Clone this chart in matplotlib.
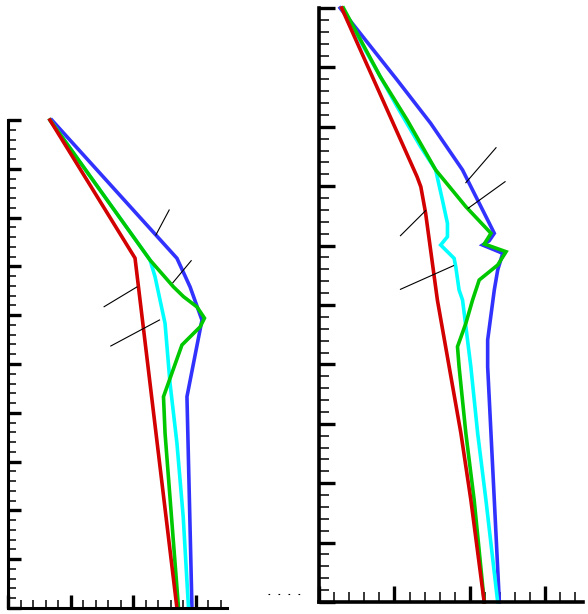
import matplotlib
matplotlib.use("Agg")
import matplotlib.pyplot as plt
from matplotlib.ticker import MultipleLocator
from matplotlib.lines import Line2D

# ---------------- data (normalised units: x 0..3.5, y 0..10) ----------------
# Left panel
L_red_x = [0.67, 2.03, 2.70]
L_red_y = [10.0, 7.17, 0.0]
L_cyan_x = [0.67, 2.27, 2.35, 2.43, 2.51, 2.59, 2.70, 2.80, 2.885]
L_cyan_y = [10.0, 7.13, 6.79, 6.31, 5.83, 4.60, 3.375, 1.87, 0.0]
L_green_x = [0.67, 2.27, 2.645, 2.805, 3.02, 3.14, 3.07, 2.78, 2.485, 2.51, 2.725]
L_green_y = [10.0, 7.13, 6.58, 6.38, 6.17, 5.94, 5.76, 5.39, 4.33, 3.58, 0.0]
L_blue_x = [0.70, 2.70, 2.91, 3.10, 2.86, 2.94]
L_blue_y = [10.0, 7.166, 6.58, 5.90, 4.33, 0.0]
L_lead_x = [[2.576, 2.363], [2.928, 2.635], [2.059, 1.536], [2.421, 1.643]]
L_lead_y = [[8.156, 7.643], [7.117, 6.666], [6.578, 6.174], [5.902, 5.369]]

# Right panel
R_red_x = [0.30, 1.30, 1.35, 1.413, 1.57, 1.88, 2.013, 2.19]
R_red_y = [10.0, 7.16, 6.99, 6.55, 5.08, 2.85, 1.72, 0.0]
R_cyan_x = [0.30, 0.813, 1.036, 1.347, 1.547, 1.636, 1.703, 1.703, 1.613, 1.703,
            1.791, 1.813, 1.857, 1.903, 1.947, 2.013, 2.103, 2.213, 2.369]
R_cyan_y = [10.0, 8.843, 8.338, 7.665, 7.273, 6.768, 6.375, 6.150, 6.010, 5.897,
            5.786, 5.645, 5.253, 5.084, 4.635, 3.961, 2.845, 1.717, 0.0]
R_green_x = [0.324, 0.813, 1.169, 1.547, 1.947, 2.28, 2.191, 2.48, 2.369, 2.124,
             2.08, 2.036, 1.947, 1.836, 1.857, 1.947, 2.057, 2.191]
R_green_y = [10.0, 8.843, 8.114, 7.273, 6.655, 6.207, 6.027, 5.897, 5.673, 5.421,
             5.253, 5.084, 4.692, 4.298, 3.961, 2.840, 1.717, 0.0]
R_blue_x = [0.28, 1.036, 1.48, 1.903, 1.991, 2.236, 2.324, 2.257, 2.169, 2.436,
            2.369, 2.324, 2.236, 2.236, 2.28, 2.324, 2.391]
R_blue_y = [10.0, 8.788, 8.059, 7.273, 7.049, 6.431, 6.207, 6.082, 6.010, 5.870,
            5.589, 5.253, 4.411, 3.961, 2.840, 1.717, 0.0]
R_lead_x = [[2.347, 1.947], [2.467, 1.977], [1.413, 1.08], [1.783, 1.08]]
R_lead_y = [[7.648, 7.059], [7.076, 6.628], [6.588, 6.167], [5.662, 5.264]]

RED = "#d20000"
GREEN = "#00c800"
CYAN = "#00ffff"
BLUE = "#3232ff"

fig = plt.figure(figsize=(5.88, 6.14), dpi=100)
ax1 = fig.add_axes([8/588, 1-608/614, 219/588, 488/614])
ax2 = fig.add_axes([319/588, 1-602/614, 264/588, 594/614])


def style(ax, spw, majlen, minlen):
    ax.set_xlim(0, 3.5)
    ax.set_ylim(0, 10)
    for s in ("top", "right"):
        ax.spines[s].set_visible(False)
    for s in ("left", "bottom"):
        ax.spines[s].set_linewidth(spw)
        ax.spines[s].set_color("black")
    ax.xaxis.set_major_locator(MultipleLocator(1))
    ax.xaxis.set_minor_locator(MultipleLocator(0.2))
    ax.yaxis.set_major_locator(MultipleLocator(1))
    ax.yaxis.set_minor_locator(MultipleLocator(0.2))
    ax.tick_params(which="major", direction="in", length=majlen, width=2.4,
                   labelbottom=False, labelleft=False, color="black")
    ax.tick_params(which="minor", direction="in", length=minlen, width=1.1,
                   color="black")
    ax.patch.set_alpha(0)


def draw(ax, series, leads):
    for xs, ys, c in series:
        ax.plot(xs, ys, color=c, lw=2.6, clip_on=False, solid_joinstyle="miter")
    for lx, ly in zip(*leads):
        ax.plot(lx, ly, color="black", lw=0.8, clip_on=False)


style(ax1, 2.2, 9.5, 5.8)
style(ax2, 2.6, 11.5, 7.2)

draw(ax1, [(L_blue_x, L_blue_y, BLUE), (L_cyan_x, L_cyan_y, CYAN),
           (L_green_x, L_green_y, GREEN), (L_red_x, L_red_y, RED)],
     (L_lead_x, L_lead_y))
draw(ax2, [(R_blue_x, R_blue_y, BLUE), (R_cyan_x, R_cyan_y, CYAN),
           (R_green_x, R_green_y, GREEN), (R_red_x, R_red_y, RED)],
     (R_lead_x, R_lead_y))

# faint dotted remnant left of the right panel's x axis
fig.add_artist(Line2D([268/588, 306/588], [1-594/614, 1-594/614],
                      color="black", lw=0.8, ls=(0, (1.5, 7.5))))

fig.savefig("out.png", dpi=100)
